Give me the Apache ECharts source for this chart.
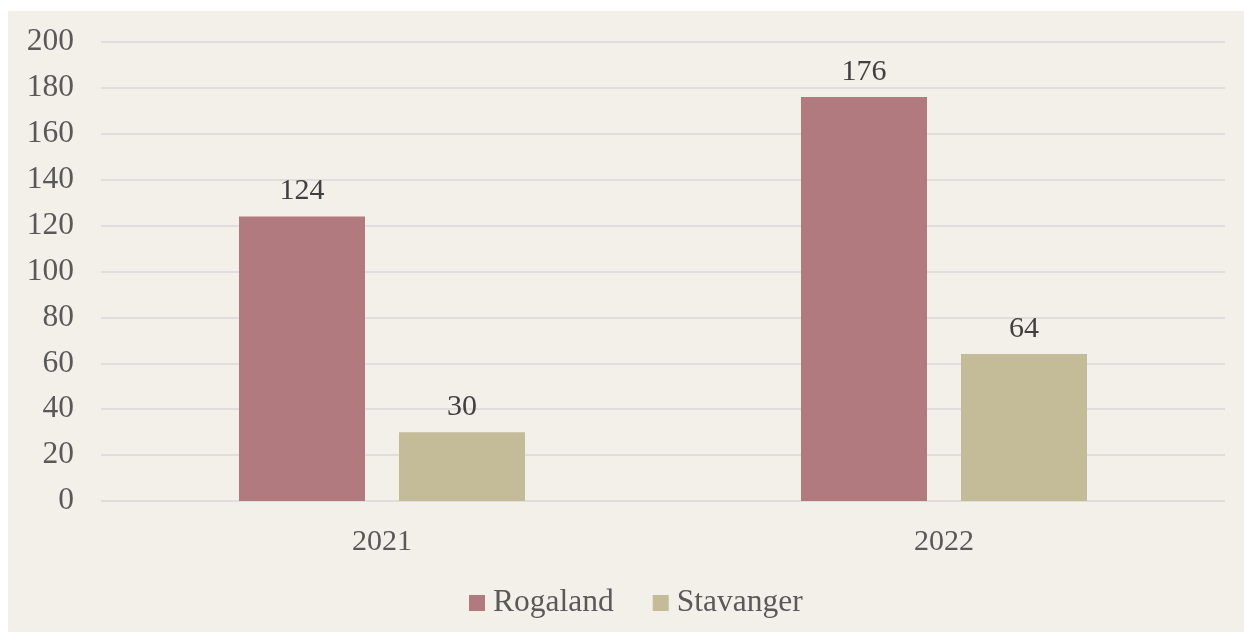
<!DOCTYPE html>
<html><head><meta charset="utf-8">
<script src="https://cdn.jsdelivr.net/npm/echarts@6/dist/echarts.min.js"></script>
<style>html,body{margin:0;padding:0;background:#fff;width:1244px;height:632px;overflow:hidden}
#c{position:absolute;left:8px;top:11px;width:1236px;height:621px}</style>
</head><body><div id="c"></div>
<script>
const categories = ['2021', '2022'];
const rogaland = [124, 176];
const stavanger = [30, 64];
const yTicks = {min: 0, max: 200, interval: 20};

const font = '"Liberation Serif", "Times New Roman", serif';
const chart = echarts.init(document.getElementById('c'));
chart.setOption({
  backgroundColor: '#f3f0e9',
  animation: false,
  textStyle: {fontFamily: font},
  grid: {left: 93, right: 19, top: 31, bottom: 131, containLabel: false},
  legend: {
    bottom: 8, left: 456, itemWidth: 16, itemHeight: 16, itemGap: 39,
    icon: 'rect',
    textStyle: {fontFamily: font, fontSize: 31.5, color: '#595959', padding: [0, 0, 0, 3]},
    data: ['Rogaland', 'Stavanger']
  },
  xAxis: {
    type: 'category', data: categories,
    axisLine: {show: false}, axisTick: {show: false},
    axisLabel: {fontFamily: font, fontSize: 30, color: '#595959', margin: 26}
  },
  yAxis: {
    type: 'value', min: yTicks.min, max: yTicks.max, interval: yTicks.interval,
    axisLine: {show: false}, axisTick: {show: false},
    axisLabel: {fontFamily: font, fontSize: 31.5, color: '#595959', margin: 27},
    splitLine: {lineStyle: {color: '#d9d9d9', width: 1.5}}
  },
  series: [
    {name: 'Rogaland', type: 'bar', data: rogaland, barWidth: 126, barGap: '27%',
     itemStyle: {color: '#b07a7e'},
     label: {show: true, position: 'top', distance: 10, fontFamily: font, fontSize: 30, color: '#404040'}},
    {name: 'Stavanger', type: 'bar', data: stavanger, barWidth: 126, barGap: '27%',
     itemStyle: {color: '#c4bb98'},
     label: {show: true, position: 'top', distance: 10, fontFamily: font, fontSize: 30, color: '#404040'}}
  ]
});
</script></body></html>
